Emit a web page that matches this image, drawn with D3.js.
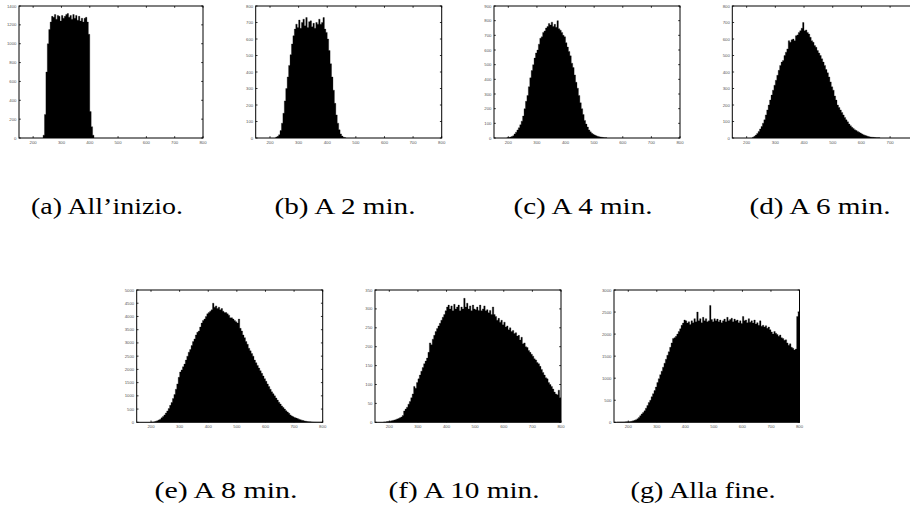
<!DOCTYPE html>
<html>
<head>
<meta charset="utf-8">
<script src="https://cdn.jsdelivr.net/npm/d3@7"></script>
<style>
  html, body { margin: 0; padding: 0; background: #fff; }
  svg { display: block; }
</style>
</head>
<body>
<svg id="chart" width="910" height="515"></svg>
<script>
// ---------- DATA ----------
const binWidth = 5;
const xDomain = [150, 800];
const xTickValues = [200, 300, 400, 500, 600, 700, 800];

const captions = ["(a) All\u2019inizio.", "(b) A 2 min.", "(c) A 4 min.", "(d) A 6 min.",
                  "(e) A 8 min.", "(f) A 10 min.", "(g) Alla fine."];

const yMaxes  = [1400, 800, 900, 800, 5000, 350, 3000];
const ySteps  = [200, 100, 100, 100, 500, 50, 500];
const binStarts = [235, 220, 195, 220, 200, 180, 160];

const histA = [30, 250, 700, 1000, 1150, 1230, 1290, 1280, 1310, 1260, 1300, 1290, 1240, 1300, 1270, 1290, 1310, 1320, 1280, 1300, 1260, 1310, 1270, 1300, 1250, 1290, 1240, 1270, 1230, 1270, 1280, 1230, 1100, 280, 120, 30];

const histB = [6, 10, 20, 45, 90, 150, 225, 300, 370, 440, 505, 570, 620, 660, 690, 670, 715, 665, 700, 720, 680, 730, 670, 705, 710, 675, 695, 665, 700, 690, 720, 690, 700, 730, 660, 640, 600, 530, 450, 370, 290, 210, 140, 90, 50, 25, 12, 5, 2];

const histC = [2, 4, 6, 10, 15, 28, 40, 55, 70, 90, 115, 150, 200, 250, 290, 350, 410, 460, 500, 545, 580, 600, 640, 680, 690, 720, 730, 750, 760, 780, 770, 790, 760, 775, 755, 800, 745, 735, 720, 700, 690, 650, 620, 590, 560, 510, 480, 430, 380, 340, 290, 240, 200, 160, 120, 95, 75, 55, 42, 32, 25, 20, 15, 12, 9, 7, 5, 3, 2, 1];

const histD = [5, 10, 18, 28, 40, 55, 70, 90, 110, 140, 170, 200, 230, 260, 290, 320, 350, 380, 410, 440, 460, 470, 500, 520, 540, 590, 580, 595, 600, 590, 620, 625, 640, 650, 665, 700, 650, 655, 640, 630, 610, 590, 580, 560, 550, 530, 515, 500, 480, 460, 440, 415, 395, 370, 340, 310, 290, 255, 230, 200, 185, 170, 155, 140, 125, 110, 98, 85, 75, 65, 58, 50, 45, 40, 35, 30, 25, 20, 16, 13, 10, 8, 6, 5, 4, 3, 2, 2, 1];

const histE = [5, 10, 20, 40, 60, 90, 120, 170, 220, 280, 350, 430, 520, 640, 750, 900, 1050, 1250, 1450, 1700, 1900, 1980, 2100, 2200, 2350, 2500, 2650, 2750, 2900, 3050, 3150, 3300, 3400, 3450, 3600, 3750, 3850, 3900, 4000, 4100, 4150, 4200, 4250, 4500, 4350, 4400, 4300, 4350, 4250, 4300, 4200, 4150, 4150, 4100, 4050, 3950, 3950, 3900, 3850, 3800, 3750, 3900, 3550, 3450, 3300, 3200, 3050, 2950, 2800, 2700, 2600, 2500, 2350, 2250, 2150, 2050, 1950, 1850, 1750, 1650, 1550, 1450, 1350, 1250, 1150, 1080, 1000, 920, 840, 760, 690, 620, 560, 500, 440, 390, 340, 280, 240, 210, 180, 160, 140, 120, 100, 80, 65, 50, 40, 30, 25, 20, 15, 10, 7, 5, 3, 2, 1];

const histF = [1, 1, 2, 2, 3, 4, 5, 6, 7, 9, 10, 12, 14, 18, 30, 35, 40, 48, 55, 65, 75, 95, 90, 105, 115, 125, 135, 145, 155, 162, 170, 185, 210, 205, 220, 230, 240, 248, 255, 262, 270, 278, 285, 295, 305, 310, 300, 308, 295, 312, 300, 305, 310, 295, 305, 300, 328, 305, 315, 300, 308, 295, 310, 300, 298, 305, 296, 310, 295, 300, 308, 295, 298, 290, 296, 285, 305, 285, 280, 270, 275, 265, 270, 258, 265, 252, 255, 245, 250, 240, 243, 235, 237, 228, 230, 218, 225, 208, 210, 200, 198, 190, 185, 180, 175, 168, 165, 158, 155, 148, 140, 132, 125, 118, 115, 105, 100, 95, 88, 80, 75, 73, 85, 65];

const histG = [2, 3, 4, 5, 6, 8, 10, 12, 15, 20, 25, 35, 45, 60, 80, 110, 150, 190, 220, 260, 320, 380, 450, 500, 580, 650, 720, 800, 900, 990, 1080, 1160, 1250, 1340, 1430, 1520, 1600, 1700, 1800, 1900, 1920, 1950, 2000, 2060, 2120, 2200, 2250, 2320, 2300, 2250, 2280, 2220, 2300, 2260, 2350, 2280, 2500, 2300, 2350, 2260, 2380, 2300, 2350, 2280, 2300, 2650, 2330, 2280, 2350, 2300, 2340, 2280, 2320, 2260, 2300, 2340, 2280, 2380, 2300, 2330, 2360, 2280, 2340, 2300, 2320, 2260, 2300, 2240, 2400, 2300, 2320, 2260, 2350, 2270, 2300, 2250, 2320, 2230, 2260, 2200, 2300, 2180, 2200, 2160, 2190, 2130, 2160, 2100, 2050, 2000, 2060, 2020, 1990, 1950, 1980, 1920, 1900, 1860, 1870, 1800, 1750, 1780, 1700, 1680, 1640, 1660, 2400, 2500];

const histograms = [histA, histB, histC, histD, histE, histF, histG];

// ---------- LAYOUT ----------
const W = 910;
const frames = [
  {x: 19,    y: 6,   w: 184, h: 132, cx: 107},
  {x: 255.7, y: 6,   w: 186, h: 132, cx: 345},
  {x: 494,   y: 6,   w: 186, h: 132, cx: 583},
  {x: 732.3, y: 6,   w: 186.5, h: 132, cx: 820},
  {x: 136.7, y: 290, w: 186, h: 132.3, cx: 226},
  {x: 375,   y: 290, w: 186, h: 132.3, cx: 464},
  {x: 614,   y: 290, w: 185.5, h: 132.3, cx: 703}
];
const captionBaselines = [214, 214, 214, 214, 498, 498, 498];
const captionWidths = [152, 141, 139, 141, 143, 151, 145];

const svg = d3.select("#chart");
const defs = svg.append("defs");

histograms.forEach((hist, i) => {
  const f = frames[i];
  const x = d3.scaleLinear().domain(xDomain).range([f.x, f.x + f.w]);
  const y = d3.scaleLinear().domain([0, yMaxes[i]]).range([f.y + f.h, f.y]);
  const g = svg.append("g");

  defs.append("clipPath").attr("id", "clip" + i)
    .append("rect").attr("x", f.x).attr("y", f.y).attr("width", f.w).attr("height", f.h);

  const pts = hist.map((v, k) => [binStarts[i] + k * binWidth, v]);
  pts.push([binStarts[i] + hist.length * binWidth, 0]);

  const area = d3.area()
    .curve(d3.curveStepAfter)
    .x(d => x(d[0]))
    .y0(y(0))
    .y1(d => y(d[1]));

  g.append("path")
    .datum(pts)
    .attr("clip-path", "url(#clip" + i + ")")
    .attr("d", area)
    .attr("fill", "#000")
    .attr("stroke", "#000")
    .attr("stroke-width", 0.3);

  // frame
  g.append("rect")
    .attr("x", f.x).attr("y", f.y).attr("width", f.w).attr("height", f.h)
    .attr("fill", "none").attr("stroke", "#000").attr("stroke-width", 1);

  const yTicks = d3.range(0, yMaxes[i] + 0.001, ySteps[i]);
  const tl = 1.8;

  // x ticks bottom/top + labels (only those inside the page)
  xTickValues.filter(t => x(t) < W - 4).forEach(t => {
    const px = x(t);
    g.append("line").attr("x1", px).attr("x2", px)
      .attr("y1", y(0)).attr("y2", y(0) - tl).attr("stroke", "#000").attr("stroke-width", 0.8);
    g.append("line").attr("x1", px).attr("x2", px)
      .attr("y1", f.y).attr("y2", f.y + tl).attr("stroke", "#000").attr("stroke-width", 0.8);
    g.append("text").attr("x", px).attr("y", f.y + f.h + 5.5)
      .attr("text-anchor", "middle")
      .style("font-family", "'Liberation Sans', Arial, sans-serif")
      .attr("font-size", 4.3).attr("fill", "#555")
      .text(t);
  });

  // y ticks left/right + labels
  yTicks.forEach(t => {
    const py = y(t);
    g.append("line").attr("x1", f.x).attr("x2", f.x + tl)
      .attr("y1", py).attr("y2", py).attr("stroke", "#000").attr("stroke-width", 0.8);
    g.append("line").attr("x1", f.x + f.w).attr("x2", f.x + f.w - tl)
      .attr("y1", py).attr("y2", py).attr("stroke", "#000").attr("stroke-width", 0.8);
    g.append("text").attr("x", f.x - 2.5).attr("y", py + 1.5)
      .attr("text-anchor", "end")
      .style("font-family", "'Liberation Sans', Arial, sans-serif")
      .attr("font-size", 4.3).attr("fill", "#555")
      .text(t);
  });

  // caption
  svg.append("text")
    .attr("x", f.cx).attr("y", captionBaselines[i])
    .attr("text-anchor", "middle")
    .style("font-family", "'Liberation Serif', 'Times New Roman', serif")
    .attr("font-size", 24)
    .attr("fill", "#000")
    .attr("textLength", captionWidths[i])
    .attr("lengthAdjust", "spacingAndGlyphs")
    .text(captions[i]);
});
</script>
</body>
</html>
